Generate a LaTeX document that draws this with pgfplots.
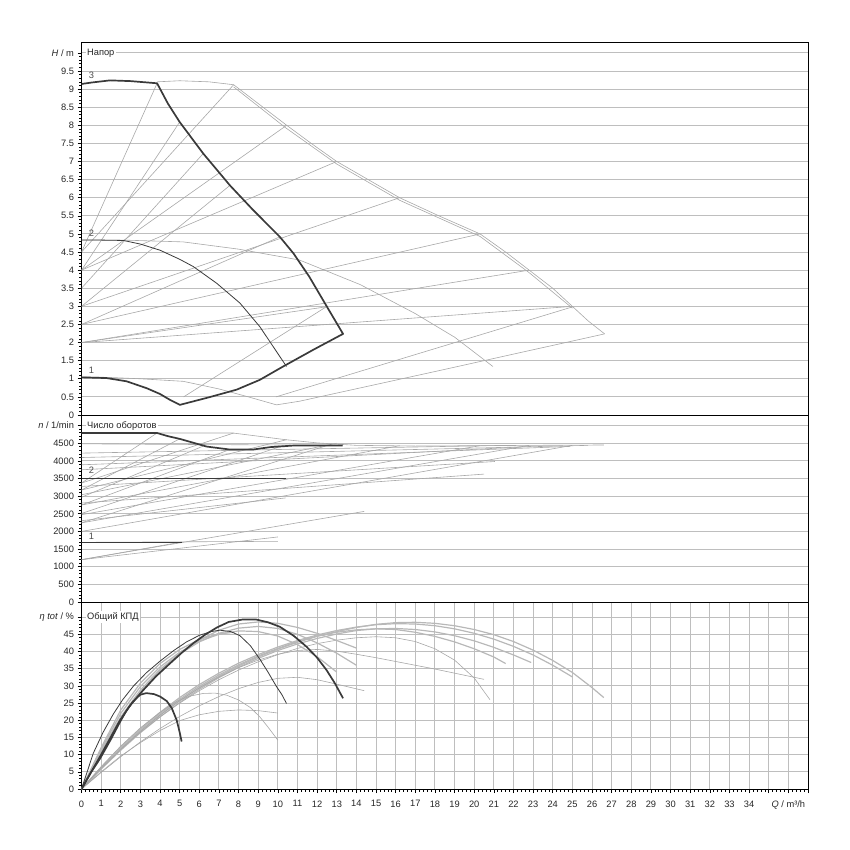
\documentclass[border=0pt]{standalone}
\usepackage{fontspec}
\setmainfont{Liberation Sans}
\usepackage{pgfplots}
\pgfplotsset{compat=1.18}

\definecolor{curvedark}{HTML}{3A3A3A}
\definecolor{othergray}{HTML}{A8A8A8}
\definecolor{bandgray}{HTML}{B8B8B8}
\definecolor{gridgray}{HTML}{BEBEBE}

\pgfplotsset{
  panel/.style={
    scale only axis, width=726.5pt, xmin=0, xmax=37,
    axis line style={black, line width=0.9pt},
    tick align=outside, ytick pos=left, xtick pos=left,
    major tick length=4pt, minor tick length=2.5pt,
    every tick/.style={black, line width=0.6pt},
    grid style={gridgray, line width=0.9pt},
    ymajorgrids,
    ticklabel style={font=\fontsize{9.3}{10}\selectfont, text=black!85},
    minor y tick num=4,
  },
  main/.style={curvedark, line width=1.7pt, line join=round},
  mainthin/.style={curvedark, line width=0.8pt},
  other/.style={othergray, line width=0.6pt},
  band/.style={bandgray, line width=1.2pt},
}

\newcommand{\paneltitle}{\node[anchor=west, fill=white, inner sep=1.5pt, font=\fontsize{9.3}{10}\selectfont, text=black!85]}
\newcommand{\curvelabel}{\node[anchor=base west, font=\fontsize{9.3}{10}\selectfont, text=black!70]}

\begin{document}
\begin{tikzpicture}
\useasboundingbox (0pt,0pt) rectangle (850pt,-850pt);

% ---------------- head H(Q) ----------------
\begin{axis}[panel, at={(81.5pt,-42pt)}, anchor=north west, height=373pt,
  ymin=0, ymax=10.3, xtick=\empty,
  ytick={0,0.5,1,1.5,2,2.5,3,3.5,4,4.5,5,5.5,6,6.5,7,7.5,8,8.5,9,9.5,10},
  yticklabels={0,0.5,1,1.5,2,2.5,3,3.5,4,4.5,5,5.5,6,6.5,7,7.5,8,8.5,9,9.5,{\textit{H} / m}}]
% other pumps of the series
\addplot[other] coordinates {(3.85,9.2) (5,9.23) (6.5,9.2) (7.75,9.12) (9,8.6) (10.45,8.0) (11.7,7.5) (13.0,7.0) (14.6,6.5) (16.2,6.0) (18.2,5.5) (20.3,5.0) (21.6,4.5) (22.8,4.0) (24,3.5) (25,3.0) (25.8,2.6) (26.64,2.24)};
\addplot[other] coordinates {(7.75,9.06) (10.4,7.93) (13,6.93) (16.2,5.93) (20.3,4.93) (22.8,3.93) (25,2.95)};
\addplot[other] coordinates {(0,1.05) (1.3,1.04) (3,1.0) (5.18,0.93) (7,0.72) (8.5,0.5) (9.93,0.28) (11.1,0.38) (18,1.2) (26.64,2.24)};
\addplot[other] coordinates {(9.9,0.5) (25.03,2.99)};
\addplot[other] coordinates {(5.2,0.5) (12.5,3.0)};
\addplot[other] coordinates {(0,4.83) (2.13,4.83) (5.18,4.78) (8,4.58) (11.1,4.28) (14.2,3.6) (17,2.8) (19,2.15) (20.95,1.34)};
% system lines, small frame
\addplot[other] coordinates {(0,4.5) (3.85,9.16)};
\addplot[other] coordinates {(0,4.0) (5.0,8.09)};
\addplot[other] coordinates {(0,3.5) (6.2,7.22)};
\addplot[other] coordinates {(0,3.0) (7.56,6.34)};
\addplot[other] coordinates {(0,2.5) (10.1,4.92)};
\addplot[other] coordinates {(0,2.0) (12.5,2.99)};
% system lines, large frame
\addplot[other] coordinates {(0,4.5) (7.75,9.12)};
\addplot[other] coordinates {(0,4.0) (10.45,8.0)};
\addplot[other] coordinates {(0,4.0) (13.0,7.0)};
\addplot[other] coordinates {(0,3.0) (16.2,6.0)};
\addplot[other] coordinates {(0,2.5) (20.3,5.0)};
\addplot[other] coordinates {(0,2.0) (22.8,4.0)};
\addplot[other] coordinates {(0,2.0) (25.0,3.0)};
% selected pump
\addplot[mainthin] coordinates {(0,4.83) (1,4.83) (2.13,4.82) (3,4.72) (4.0,4.55) (5,4.3) (5.69,4.1) (6.88,3.64) (8.07,3.09) (9.08,2.44) (9.76,1.89) (10.44,1.34)};
\addplot[main] coordinates {(0,9.14) (0.5,9.18) (1.45,9.24) (2.5,9.22) (3.85,9.16) (4.4,8.6) (5.0,8.09) (6.2,7.22) (7.56,6.34) (8.74,5.66) (10.1,4.92) (10.8,4.46) (11.6,3.82) (12.5,2.99) (13.32,2.24) (11.8,1.8) (10.27,1.34) (9.08,0.97) (7.9,0.70) (6.5,0.49) (5.01,0.28) (4.5,0.42) (4.0,0.58) (3.32,0.74) (2.3,0.93) (1.28,1.02) (0,1.04)};
\curvelabel at (axis cs:0.2,9.3) {3};
\curvelabel at (axis cs:0.2,4.93) {2};
\curvelabel at (axis cs:0.2,1.15) {1};
\paneltitle at (axis cs:0.2,10) {Напор};
\end{axis}

% ---------------- speed n(Q) ----------------
\begin{axis}[panel, at={(81.5pt,-415pt)}, anchor=north west, height=187pt,
  ymin=0, ymax=5300, xtick=\empty,
  ytick={0,500,1000,1500,2000,2500,3000,3500,4000,4500,5000},
  yticklabels={0,500,1000,1500,2000,2500,3000,3500,4000,4500,{\textit{n} / 1/min}}]
\addplot[other] coordinates {(0,4790) (7.7,4790) (9,4700) (10.4,4600) (12,4510) (14,4440) (17,4420) (20,4430) (23,4440) (26.6,4450)};
\addplot[other] coordinates {(0,4483) (13.3,4440)};
\addplot[other] coordinates {(0,4220) (21.6,4440)};
\addplot[other] coordinates {(0,4095) (25.8,4440)};
\addplot[other] coordinates {(0,3889) (24.9,4410)};
\addplot[other] coordinates {(0,3747) (22.9,4410)};
\addplot[other] coordinates {(0,3371) (3.85,4790)};
\addplot[other] coordinates {(0,3371) (7.75,4790)};
\addplot[other] coordinates {(0,3275) (21.05,3982)};
\addplot[other] coordinates {(0,3174) (5.0,4624)};
\addplot[other] coordinates {(0,3174) (10.45,4600)};
\addplot[other] coordinates {(0,3040) (13.0,4500)};
\addplot[other] coordinates {(0,2969) (6.2,4420)};
\addplot[other] coordinates {(0,2805) (20.5,3625)};
\addplot[other] coordinates {(0,2749) (7.56,4321)};
\addplot[other] coordinates {(0,2749) (16.2,4430)};
\addplot[other] coordinates {(0,2509) (10.1,4400)};
\addplot[other] coordinates {(0,2475) (20.3,4430)};
\addplot[other] coordinates {(0,2305) (10.4,2950)};
\addplot[other] coordinates {(0,2244) (12.5,4434)};
\addplot[other] coordinates {(0,2244) (22.8,4440)};
\addplot[other] coordinates {(0,2000) (25.0,4440)};
\addplot[other] coordinates {(0,1200) (14.4,2568)};
\addplot[other] coordinates {(0,1200) (10.0,1844)};
\addplot[other] coordinates {(0,1200) (5.1,1700)};
\addplot[other] coordinates {(0,1690) (10.0,1720)};
% selected pump
\addplot[mainthin] coordinates {(0,3510) (10.44,3510)};
\addplot[main] coordinates {(0,4790) (3.85,4790) (4.4,4700) (5.0,4624) (6.37,4406) (7.56,4321) (8.74,4321) (9.6,4389) (10.78,4434) (13.3,4434)};
\addplot[main] coordinates {(0,1690) (5.1,1690)};
\curvelabel at (axis cs:0.2,3650) {2};
\curvelabel at (axis cs:0.2,1780) {1};
\paneltitle at (axis cs:0.2,5000) {Число оборотов};
\end{axis}

% ---------------- efficiency eta(Q) ----------------
\begin{axis}[panel, at={(81.5pt,-602pt)}, anchor=north west, height=187pt,
  ymin=0, ymax=54.4, xmajorgrids, minor x tick num=4,
  xtick={0,1,...,37},
  xticklabels={0,1,2,3,4,5,6,7,8,9,10,11,12,13,14,15,16,17,18,19,20,21,22,23,24,25,26,27,28,29,30,31,32,33,34,{},{\textit{Q} / m³/h},{}},
  xticklabel style={yshift=-4pt},
  ytick={0,5,10,15,20,25,30,35,40,45,50},
  yticklabels={0,5,10,15,20,25,30,35,40,45,{\textit{η tot} / \%}}]
% larger pumps of the series
\addplot[band] coordinates {(0,0) (1,6) (2,11.6) (3,16.8) (4,21.5) (5,25.7) (6,29.5) (7,32.8) (8,35.8) (9,38.4) (10,40.7) (11,42.7) (12,44.4) (13,45.8) (14,47) (15,47.9) (16,48.4) (17,48.5) (18,48.2) (19,47.5) (20,46.4) (21,44.9) (22,42.9) (23,40.4) (24,37.4) (25,33.9) (26,29.5) (26.6,26.6)};
\addplot[band] coordinates {(0,0) (1,6.3) (2,12.2) (3,17.5) (4,22.3) (5,26.6) (6,30.4) (7,33.7) (8,36.6) (9,39.1) (10,41.3) (11,43.2) (12,44.8) (13,46.1) (14,47.1) (15,47.8) (16,48.1) (17,48) (18,47.5) (19,46.6) (20,45.3) (21,43.6) (22,41.5) (23,39) (24,36) (25,32.6)};
\addplot[band] coordinates {(0,0) (1,5.8) (2,11.3) (3,16.4) (4,21) (5,25.2) (6,29) (7,32.4) (8,35.4) (9,38) (10,40.3) (11,42.2) (12,43.8) (13,45.1) (14,46.1) (15,46.6) (16,46.7) (17,46.4) (18,45.7) (19,44.6) (20,43.1) (21,41.2) (22,39) (22.9,36.8)};
\addplot[band] coordinates {(0,0) (1,6.1) (2,11.9) (3,17.2) (4,21.9) (5,26.1) (6,29.9) (7,33.2) (8,36.1) (9,38.7) (10,40.9) (11,42.9) (12,44.5) (13,45.6) (14,46.3) (15,46.6) (16,46.4) (17,45.6) (18,44.4) (19,42.8) (20,40.8) (21,38.4) (21.6,36.5)};
\addplot[other] coordinates {(0,0) (1,6) (2,11.5) (3,16.5) (4,21) (5,25) (6,28.6) (7,31.8) (8,34.6) (9,37) (10,39.1) (11,40.9) (12,42.3) (13,43.3) (14,44) (15,44.3) (16,44) (17,42.9) (18,40.8) (19,37.5) (20,32.3) (20.8,26)};
\addplot[other] coordinates {(0,0) (1,6) (2,11.6) (3,16.8) (4,21.5) (5,25.7) (6,29.4) (7,32.6) (8,35.3) (9,37.5) (10,39.2) (11,40.3) (12,40.6) (13,40.1) (14,39.2) (15,38.2) (16,37.1) (17,36) (18,34.9) (19,33.7) (20,32.5) (20.5,31.9)};
\addplot[other] coordinates {(0,0) (1,4.8) (2,9.4) (3,13.7) (4,17.6) (5,21.1) (6,24.2) (7,26.9) (8,29.2) (9,31) (10,32.2) (11,32.5) (12,31.8) (13,30.5) (14.4,28.6)};
% smaller pumps of the series
\addplot[band] coordinates {(0,0) (1,11.5) (2,22) (3,29.8) (4,35.5) (5,39.8) (6,43) (7,45) (8,46) (9,45.8) (10,44.5) (11,42) (12,38.5) (13,34)};
\addplot[band] coordinates {(0,0) (1,11) (2,21) (3,28.8) (4,34.8) (5,39.3) (6,42.8) (7,45.3) (8,46.8) (9,47.3) (10,46.7) (11,45) (12,42.5) (13,39.5) (14,36)};
\addplot[band] coordinates {(0,0) (1,10.5) (2,20.5) (3,28.3) (4,34.5) (5,39.5) (6,43.3) (7,46.2) (8,48) (9,48.6) (10,48.2) (11,47) (12,45.3) (13,43.2) (14,41)};
\addplot[band] coordinates {(0,0) (1,12) (2,23) (3,30.8) (4,36.5) (5,40.6) (6,43.5) (7,45.2) (7.8,45.6)};
\addplot[other] coordinates {(0,0) (1,6.5) (2,12.5) (3,17.8) (4,22.3) (4.85,25.5) (5.5,27) (6.2,27.8) (6.8,27.9) (7.39,27.3) (8,25.9) (8.6,23.7) (9.08,21) (9.5,18) (10,14.2)};
\addplot[other] coordinates {(0,0) (1,5) (2,9.6) (3,13.5) (4,17) (5,19.9) (6,21.6) (7,22.6) (8,23) (9,22.8) (10,22.1)};
% selected pump
\addplot[mainthin] coordinates {(0,0) (0.6,10.4) (1.1,16.5) (1.62,21.8) (2.1,26) (2.64,29.9) (3.3,33.8) (4.0,37.2) (4.7,40.3) (5.35,42.8) (6.0,44.7) (6.6,45.8) (7.05,46.2) (7.6,45.8) (8.07,44.6) (8.6,41.7) (9.08,37.8) (9.5,34) (9.93,29.8) (10.2,27.5) (10.44,24.9)};
\addplot[main] coordinates {(0,0) (0.5,5) (0.94,9.4) (1.5,15.2) (1.96,20) (2.5,24.5) (3.15,28.8) (3.8,32.8) (4.5,36.5) (5.1,39.6) (5.69,42.4) (6.3,44.9) (6.9,47) (7.5,48.6) (8.2,49.3) (8.9,49.3) (9.5,48.5) (10.1,47.2) (10.8,44.6) (11.46,41.4) (12,38.2) (12.48,34.6) (12.9,30.8) (13.32,26.4)};
\addplot[main] coordinates {(0,0) (0.5,5) (0.94,8.8) (1.5,14.5) (1.96,19.5) (2.3,22.9) (2.64,25.5) (2.98,27.4) (3.3,27.9) (3.7,27.6) (4.0,26.9) (4.34,25.6) (4.6,23.5) (4.85,20) (5.0,16.5) (5.1,13.8)};
\paneltitle at (axis cs:0.2,50) {Общий КПД};
\end{axis}
\end{tikzpicture}
\end{document}
